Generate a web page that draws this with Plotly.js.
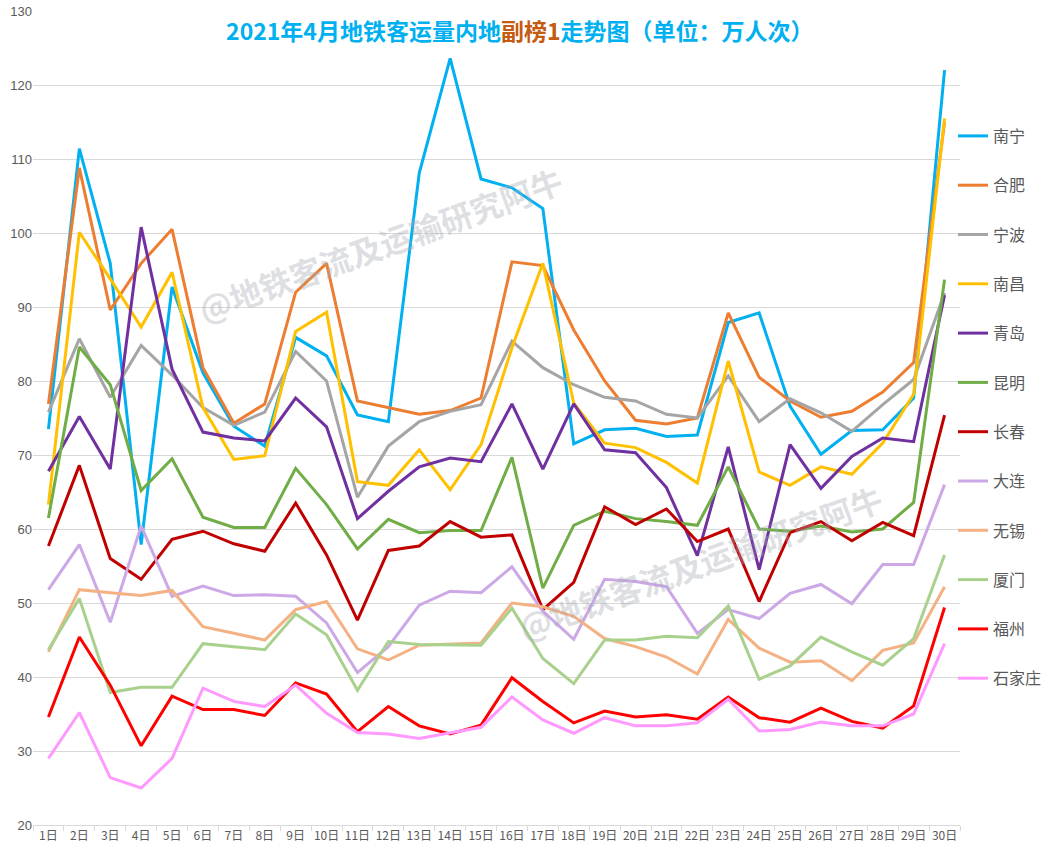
<!DOCTYPE html>
<html>
<head>
<meta charset="utf-8">
<script src="https://cdn.plot.ly/plotly-3.0.1.min.js"></script>
<style>
html,body{margin:0;padding:0;background:#fff;}
#chart{width:1048px;height:851px;}
</style>
</head>
<body>
<div id="chart"></div>
<script>
const days = ["1日","2日","3日","4日","5日","6日","7日","8日","9日","10日","11日","12日","13日","14日","15日","16日","17日","18日","19日","20日","21日","22日","23日","24日","25日","26日","27日","28日","29日","30日"];

const nanning   = [73.5,111.4,95.9,57.9,92.7,81.1,73.9,71.2,85.9,83.4,75.4,74.5,108.1,123.6,107.3,106.1,103.3,71.5,73.4,73.6,72.5,72.7,87.9,89.2,76.6,70.1,73.3,73.4,77.7,122.0];
const hefei     = [76.9,108.8,89.6,95.9,100.5,81.8,74.3,76.9,92.0,95.9,77.3,76.4,75.5,76.0,77.7,96.1,95.6,86.9,80.0,74.7,74.2,75.0,89.2,80.5,77.3,75.1,75.9,78.5,82.5,115.0];
const ningbo    = [75.8,85.7,77.8,84.8,80.8,76.4,74.0,75.8,84.0,80.0,64.3,71.2,74.5,75.9,76.8,85.4,81.8,79.5,77.8,77.3,75.5,75.0,80.7,74.5,77.6,75.7,73.2,76.8,80.2,91.9];
const nanchang  = [63.3,100.1,93.8,87.3,94.7,76.4,69.4,69.9,86.7,89.3,66.4,65.9,70.7,65.3,71.4,84.5,95.9,77.0,71.6,71.0,69.0,66.2,82.7,67.7,65.9,68.4,67.4,71.6,78.2,115.5];
const qingdao   = [67.8,75.2,68.1,100.8,81.6,73.1,72.3,71.9,77.7,73.8,61.4,65.1,68.4,69.6,69.1,76.9,68.1,76.9,70.7,70.3,65.6,56.4,71.1,54.5,71.4,65.5,69.8,72.3,71.8,91.6];
const kunming   = [61.5,84.6,79.5,65.2,69.5,61.6,60.2,60.2,68.2,63.3,57.3,61.3,59.5,59.8,59.8,69.7,52.0,60.5,62.4,61.4,61.0,60.5,68.4,60.0,59.7,60.4,59.6,60.0,63.6,93.7];
const changchun = [57.7,68.6,56.0,53.2,58.6,59.7,58.0,57.0,63.5,56.5,47.7,57.1,57.7,61.0,58.9,59.2,49.1,52.8,63.0,60.6,62.7,58.3,60.0,50.2,59.5,61.0,58.4,60.9,59.1,75.4];
const dalian    = [51.8,57.9,47.4,60.4,50.9,52.3,51.0,51.1,50.9,47.3,40.6,44.1,49.7,51.6,51.4,54.9,48.9,45.1,53.2,52.9,52.2,45.9,49.1,47.9,51.3,52.5,49.9,55.2,55.2,66.0];
const wuxi      = [43.4,51.8,51.4,51.0,51.7,46.8,45.9,45.0,49.1,50.2,43.8,42.3,44.3,44.5,44.6,50.0,49.5,48.2,45.2,44.1,42.7,40.4,47.8,43.9,42.0,42.2,39.5,43.6,44.6,52.2];
const xiamen    = [43.7,50.6,37.9,38.6,38.6,44.5,44.1,43.7,48.5,45.7,38.2,44.8,44.4,44.4,44.3,49.3,42.5,39.1,45.0,45.0,45.5,45.3,49.6,39.7,41.5,45.4,43.4,41.6,45.2,56.5];
const fuzhou    = [34.6,45.4,38.9,30.7,37.4,35.6,35.6,34.8,39.2,37.7,32.6,36.0,33.4,32.3,33.5,39.9,36.7,33.8,35.4,34.6,34.9,34.3,37.3,34.5,33.9,35.8,34.0,33.1,36.1,49.4];
const shijiazhuang = [29.0,35.2,26.4,25.0,29.0,38.5,36.7,36.0,38.9,35.1,32.5,32.3,31.7,32.5,33.2,37.3,34.2,32.4,34.5,33.4,33.4,33.8,37.0,32.7,32.9,33.9,33.4,33.4,35.0,44.5];

const seriesNames = ["南宁","合肥","宁波","南昌","青岛","昆明","长春","大连","无锡","厦门","福州","石家庄"];
const seriesData = [nanning,hefei,ningbo,nanchang,qingdao,kunming,changchun,dalian,wuxi,xiamen,fuzhou,shijiazhuang];
const seriesColors = ["#00B0F0","#ED7D31","#A5A5A5","#FFC000","#7030A0","#70AD47","#C00000","#CCA8E6","#F4B183","#A9D18E","#FF0000","#FF99FF"];
const yTicks = [20,30,40,50,60,70,80,90,100,110,120,130];

const traces = seriesNames.map((n,i)=>({
  type:'scatter', mode:'lines', name:n, x:days, y:seriesData[i],
  legendgroup:'g'+i,
  line:{color:seriesColors[i], width:3, shape:'linear'},
  hoverinfo:'skip'
}));

const wm = "@地铁客流及运输研究阿牛";
const wmFont = {family:'"Noto Sans CJK SC", sans-serif', size:32, color:'rgba(165,170,180,0.38)', weight:'bold'};
const layout = {
  width:1048, height:851,
  paper_bgcolor:'#fff', plot_bgcolor:'#fff',
  margin:{l:33, r:88, t:11, b:26, autoexpand:false},
  title:{
    text:'<b>2021年4月地铁客运量内地<span style="color:#C55A11">副榜1</span>走势图（单位：万人次）</b>',
    font:{family:'"Noto Sans CJK SC", "Noto Sans", sans-serif', size:23, color:'#00B0F0'},
    x:0.496, xref:'container', xanchor:'center',
    y:0.962, yref:'container', yanchor:'middle'
  },
  xaxis:{
    type:'category', range:[-0.5,29.5],
    showgrid:false, showline:true, linecolor:'#D9D9D9', linewidth:1,
    ticks:'outside', tickson:'boundaries', ticklen:5, tickcolor:'#D9D9D9',
    tickangle:0,
    tickfont:{family:'"Noto Sans CJK SC", sans-serif', size:12, color:'#595959'},
    zeroline:false, fixedrange:true
  },
  yaxis:{
    range:[20,130], tickvals:yTicks, ticktext:yTicks.map(String),
    showgrid:true, gridcolor:'#D9D9D9', gridwidth:1,
    showline:false, zeroline:false, ticks:'',
    tickfont:{family:'"Liberation Sans", Arial, sans-serif', size:13, color:'#595959'},
    fixedrange:true
  },
  showlegend:true,
  legend:{
    xref:'container', yref:'container',
    x:953/1048, xanchor:'left', y:1-119/851, yanchor:'top',
    traceorder:'grouped', tracegroupgap:25.5, maxheight:760,
    font:{family:'"Noto Sans CJK SC", sans-serif', size:16, color:'#595959'},
    bgcolor:'rgba(0,0,0,0)', itemwidth:30
  },
  annotations:[
    {text:wm, xref:'paper', yref:'paper', x:(380-33)/927, y:(825.3-244)/814, xanchor:'center', yanchor:'middle',
     showarrow:false, textangle:-20, font:wmFont},
    {text:wm, xref:'paper', yref:'paper', x:(700-33)/927, y:(825.3-562)/814, xanchor:'center', yanchor:'middle',
     showarrow:false, textangle:-20, font:wmFont}
  ]
};

Plotly.newPlot('chart', traces, layout, {displayModeBar:false, staticPlot:true});
</script>
</body>
</html>
